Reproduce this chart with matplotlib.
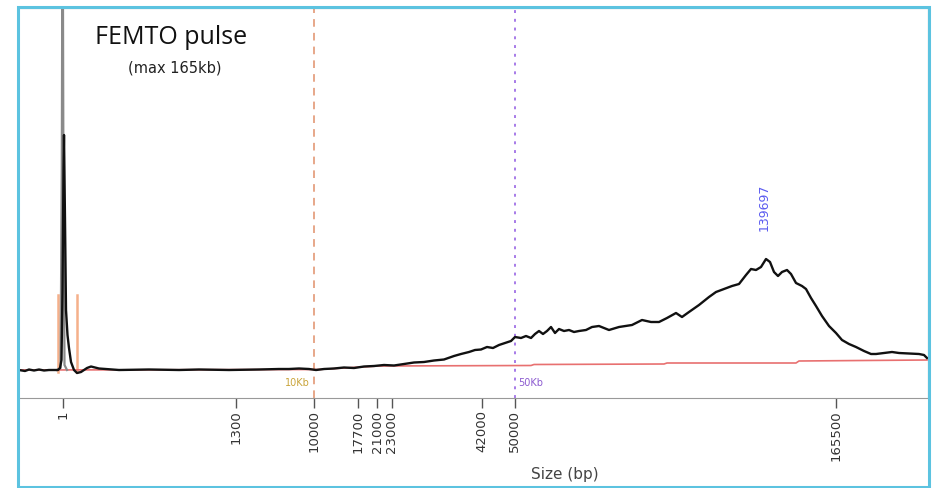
import numpy as np
import matplotlib
matplotlib.use("Agg")
import matplotlib.pyplot as plt
from matplotlib.patches import Rectangle

# ---------------- data ----------------
# ladder (size marker) positions along migration axis (arbitrary units) and their sizes
ladder_sizes = [1, 1300, 10000, 17700, 21000, 23000, 42000, 50000, 165500]
ladder_pos = [43.8, 216.7, 295.0, 339.3, 358.3, 372.7, 463.3, 495.7, 817.3]
tick_labels = ["1", "1300", "10000", "17700", "21000", "23000", "42000", "50000", "165500"]

# sample trace (migration position, signal)
trace_pos = [0, 6, 10, 15, 20, 25, 30, 35, 39, 41,
             42.5, 43.5, 44.5, 45, 46, 47, 48.5, 50, 52, 55,
             58, 62, 65, 68, 72, 80, 100, 130, 160, 180,
             210, 240, 260, 270, 280, 290, 297, 305, 315, 325,
             335, 345, 355, 365, 375, 385, 395, 405, 415, 425,
             435, 442, 450, 456, 462, 468, 474, 480, 486, 492,
             496, 502, 507, 512, 516, 520, 524, 528, 532, 536,
             540, 545, 550, 555, 560, 567, 573, 580, 590, 600,
             613, 623, 632, 640, 648, 657, 663, 670, 680, 690,
             697, 705, 713, 720, 727, 732, 737, 742, 747, 751,
             755, 759, 763, 768, 772, 777, 783, 787, 792, 797,
             803, 810, 817, 823, 830, 837, 845, 852, 857, 865,
             873, 880, 890, 900, 905, 908]
trace_sig = [0, -1, 0.5, -0.5, 0.5, -0.5, 0, 0, 0, 2,
             10, 80, 200, 235, 150, 60, 35, 22, 8, 0,
             -3, -2, 0, 2, 3.5, 1.5, 0, 0.5, 0, 0.5,
             0, 0.5, 1, 1, 1.5, 1, 0, 1, 1.5, 2.5,
             2, 3.5, 4, 5, 4.5, 6, 7.5, 8, 9.5, 10.5,
             14, 16, 18, 20, 20.5, 23, 22, 25, 27, 29,
             33, 32, 34, 32, 36, 39, 36, 39, 43, 37,
             41, 39, 40, 38, 39, 40, 43, 44, 40, 43,
             45, 50, 48, 48, 52, 57, 53, 58, 65, 73,
             78, 81, 84, 86, 95, 101, 100, 103, 111, 108,
             98, 94, 98, 100, 96, 87, 84, 81, 72, 64,
             54, 44, 37, 30, 26, 23, 19, 16, 16, 17,
             18, 17, 16.5, 16, 15, 12]

# lower-marker overlay trace (gray)
marker_pos = [38, 41.5, 42.8, 43.6, 44.4, 45.5, 48]
marker_sig = [0, 2, 200, 520, 200, 5, 0]

# lower-marker integration bounds
marker_bounds = [38.8, 58.3]
marker_bound_height = 75

# baseline (red)
base_pos = [0, 300, 325, 360, 512, 515, 645, 648, 777, 780, 908]
base_sig = [0, 0.5, 2, 4, 4.5, 5.5, 6, 7, 7, 9, 10]

# size markers / annotations
line_10kb = 10000
line_50kb = 50000
peak_size = 139697

# ---------------- figure ----------------
W, H = 935, 488
fig = plt.figure(figsize=(W / 100, H / 100), dpi=100)
ax = fig.add_axes([19 / W, (H - 398) / H, (928 - 19) / W, (398 - 8) / H])

ax.plot(base_pos, base_sig, color="#e87070", lw=1.2, zorder=2)
ax.plot(marker_pos, marker_sig, color="#8a8a8a", lw=1.6, zorder=3)
ax.plot(trace_pos, trace_sig, color="#111111", lw=1.7, zorder=4)
for b in marker_bounds:
    ax.plot([b, b], [-2, marker_bound_height], color="#f5b08a", lw=1.8, zorder=1)

x10 = np.interp(line_10kb, ladder_sizes, ladder_pos)
x50 = np.interp(line_50kb, ladder_sizes, ladder_pos)
ax.axvline(x10, color="#e0906a", lw=1.1, ls=(0, (5, 4)), zorder=1)
ax.axvline(x50, color="#a77be8", lw=1.4, ls=(0, (1.5, 3)), zorder=1)
ax.text(x10 - 4, -13, "10Kb", color="#c9a43a", fontsize=7, ha="right", va="center",
        family="DejaVu Sans")
ax.text(x50 + 3, -13, "50Kb", color="#8c5bd0", fontsize=7, ha="left", va="center",
        family="DejaVu Sans")

xpk = np.interp(peak_size, ladder_sizes, ladder_pos)
ypk = np.interp(xpk, trace_pos, trace_sig)
ax.text(xpk, ypk + 30, str(peak_size), rotation=90, color="#5b5bf0", fontsize=9,
        ha="center", va="bottom", family="DejaVu Sans")

ax.set_xlim(0, 909)
ax.set_ylim(-28, 362)
ax.set_yticks([])
ax.set_xticks(ladder_pos)
ax.set_xticklabels(tick_labels, rotation=90, fontsize=9.5, color="#333333",
                   family="DejaVu Sans")
ax.tick_params(axis="x", length=7, width=1, color="#555555", pad=2)
for s in ["top", "right"]:
    ax.spines[s].set_color("#777777")
ax.spines["bottom"].set_color("#999999")
ax.spines["left"].set_visible(False)
ax.set_xlabel("Size (bp)", fontsize=11, color="#444444", family="DejaVu Sans", labelpad=3)
ax.xaxis.set_label_coords((565 - 19) / (928 - 19), -(467 - 398) / 390)

fig.text(95 / W, 1 - 37 / H, "FEMTO pulse", fontsize=18, color="#111111",
         family="Open Sans", ha="left", va="center")
fig.text(175 / W, 1 - 68 / H, "(max 165kb)", fontsize=10.5, color="#222222",
         family="DejaVu Sans", ha="center", va="center")

fig.patches.append(Rectangle((18 / W, 1 - 487 / H), (929 - 18) / W, (487 - 7) / H,
                             transform=fig.transFigure, fill=False,
                             edgecolor="#5cc3e0", lw=2.2, zorder=10))

fig.savefig("out.png", dpi=100)
